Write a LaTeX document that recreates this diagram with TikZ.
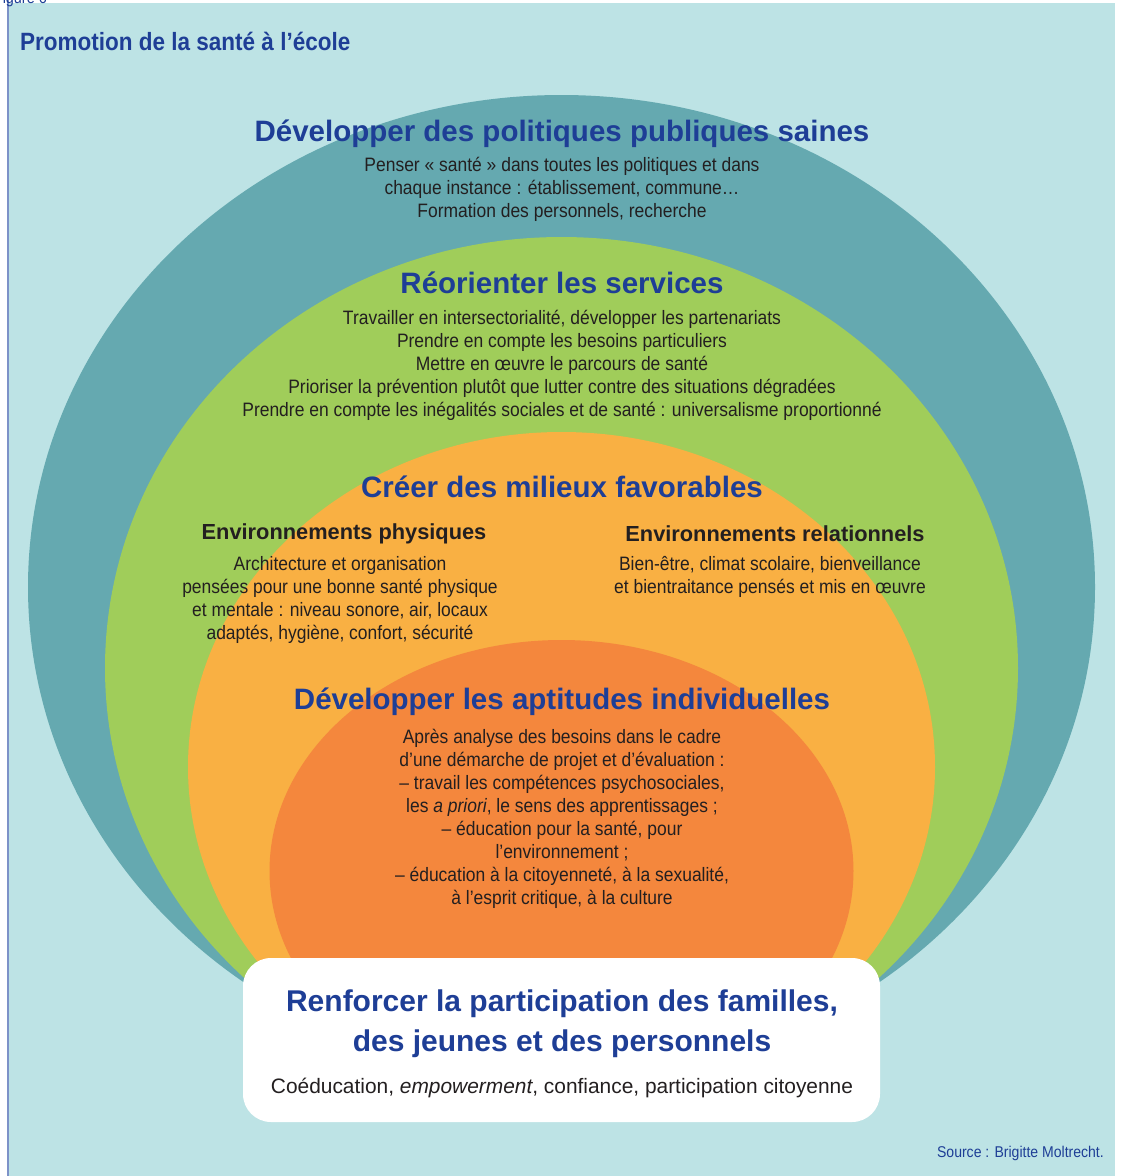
\documentclass[tikz,border=0pt]{standalone}
\usepackage{fontspec}
\setmainfont{Liberation Sans}
\newfontfamily\bodyf[FakeStretch=0.9]{Liberation Sans}
\newfontfamily\headf[FakeStretch=0.9]{Liberation Sans}
\definecolor{bgc}{HTML}{BDE3E5}
\definecolor{tealc}{HTML}{65A9B0}
\definecolor{greenc}{HTML}{A0CD5A}
\definecolor{lorange}{HTML}{F9B043}
\definecolor{dorange}{HTML}{F4873D}
\definecolor{titblue}{HTML}{1E3E96}
\definecolor{txt}{HTML}{231F20}
\definecolor{bordc}{HTML}{7D92C8}
\tikzset{
  bigtitle/.style={text=titblue, font=\bfseries\fontsize{29.5}{36}\selectfont, inner sep=0pt, align=center},
  bodytext/.style={text=txt, font=\bodyf\fontsize{19.4}{23}\selectfont, inner sep=0pt, align=center},
  subhead/.style={text=txt, font=\bfseries\fontsize{21.8}{26}\selectfont, inner sep=0pt},
}
\begin{document}
\begin{tikzpicture}[x=1pt,y=-1pt]
\useasboundingbox (0,0) rectangle (1123,1176);
\fill[bgc] (8,3) rectangle (1115,1176);
\draw[bordc, line width=1.5pt] (8,0) -- (8,1176);
\node[anchor=base east, text=titblue, font=\bodyf\fontsize{16}{18}\selectfont, inner sep=0pt] (fig) at (47,3) {Figure 6};
\node[anchor=west, text=titblue, font=\headf\bfseries\fontsize{25}{30}\selectfont, inner sep=0pt] (maintitle) at (20,41) {Promotion de la santé à l’école};
% nested shapes
\fill[tealc] (561.5,587) ellipse [x radius=533.5pt, y radius=492pt];
\fill[greenc] (561.5,668) ellipse [x radius=456.5pt, y radius=431pt];
\fill[lorange] (561.5,767) ellipse [x radius=373.5pt, y radius=335pt];
\fill[dorange] (561.5,871) ellipse [x radius=292pt, y radius=231pt];
% titles and texts
\node[bigtitle] (t1) at (562,133.5) {Développer des politiques publiques saines};
\node[bodytext] (b1) at (562,189.5) {Penser « santé » dans toutes les politiques et dans\\chaque instance~: établissement, commune…\\Formation des personnels, recherche};
\node[bigtitle] (t2) at (562,283) {Réorienter les services};
\node[bodytext] (b2) at (562,365) {Travailler en intersectorialité, développer les partenariats\\Prendre en compte les besoins particuliers\\Mettre en œuvre le parcours de santé\\Prioriser la prévention plutôt que lutter contre des situations dégradées\\Prendre en compte les inégalités sociales et de santé~: universalisme proportionné};
\node[bigtitle] (t3) at (562,487) {Créer des milieux favorables};
\node[subhead] (s1) at (344,534) {Environnements physiques};
\node[bodytext] (b3) at (340,599.5) {Architecture et organisation\\pensées pour une bonne santé physique\\et mentale~: niveau sonore, air, locaux\\adaptés, hygiène, confort, sécurité};
\node[subhead] (s2) at (775,534) {Environnements relationnels};
\node[bodytext] (b4) at (770,576.5) {Bien-être, climat scolaire, bienveillance\\et bientraitance pensés et mis en œuvre};
\node[bigtitle] (t4) at (562,701.5) {Développer les aptitudes individuelles};
\node[bodytext] (b5) at (562,818.5) {Après analyse des besoins dans le cadre\\d’une démarche de projet et d’évaluation~:\\– travail les compétences psychosociales,\\les \textit{a priori}, le sens des apprentissages~;\\– éducation pour la santé, pour\\l’environnement~;\\– éducation à la citoyenneté, à la sexualité,\\à l’esprit critique, à la culture};
% white box
\node[fill=white, rounded corners=28pt, minimum width=637pt, minimum height=164pt, inner sep=0pt] (box) at (561.5,1040) {};
\node[bigtitle, font=\bfseries\fontsize{30}{40}\selectfont] (t5) at (562,1024) {Renforcer la participation des familles,\\des jeunes et des personnels};
\node[text=txt, font=\fontsize{20.9}{25}\selectfont, inner sep=0pt] (b6) at (562,1088) {Coéducation, \textit{empowerment}, confiance, participation citoyenne};
\node[anchor=east, text=titblue, font=\bodyf\fontsize{15.6}{18}\selectfont, inner sep=0pt] (src) at (1104,1153) {Source~: Brigitte Moltrecht.};
\end{tikzpicture}
\end{document}
